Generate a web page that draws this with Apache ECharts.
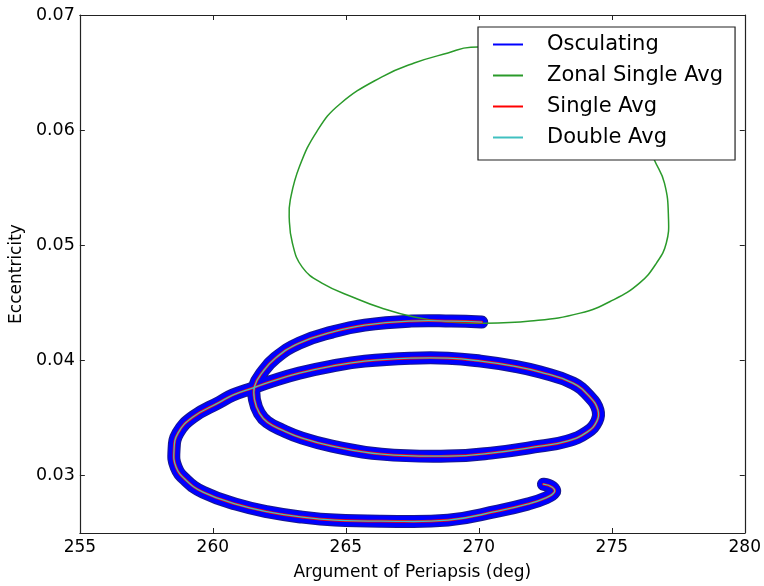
<!DOCTYPE html>
<html>
<head>
<meta charset="utf-8">
<script src="https://cdn.jsdelivr.net/npm/echarts@6/dist/echarts.min.js"></script>
<style>
html,body{margin:0;padding:0;background:#fff}
#main{width:764px;height:586px}
</style>
</head>
<body>
<div id="main"></div>
<script>
// averaged trajectory (argument of periapsis in deg, eccentricity)
var pathOmega = [270.11,268.96,267.46,265.71,264.48,263.25,262.35,261.87,261.57,261.57,261.75,262.05,262.61,263.36,264.48,266.34,268.84,270.45,272.31,273.32,274.07,274.44,274.48,274.18,273.54,272.31,271.31,270.07,268.84,267.46,265.71,264.48,263.25,262.24,261.49,260.75,260.26,259.25,258.69,258.54,258.62,258.99,259.63,260.86,262.13,263.36,264.59,266.34,268.84,270.71,271.83,272.50,272.84,272.76,272.43]
var pathEcc = [0.04332,0.04341,0.04341,0.04306,0.04245,0.0415,0.04019,0.03898,0.03776,0.03654,0.03541,0.03463,0.03394,0.03324,0.03255,0.03185,0.03168,0.03194,0.03255,0.03298,0.03376,0.03472,0.03567,0.0368,0.03802,0.03898,0.0395,0.03993,0.04019,0.04019,0.03993,0.0395,0.03889,0.0382,0.03759,0.03698,0.03637,0.03507,0.03368,0.0322,0.03072,0.02959,0.02855,0.02751,0.02681,0.02638,0.02612,0.02603,0.02612,0.0269,0.02751,0.02803,0.02855,0.02898,0.02924]
// zonal single averaged loop
var zonalOmega = [270.19,271.94,273.81,275.04,276.04,276.68,277.05,277.13,276.98,276.60,276.16,275.41,273.66,272.43,271.16,269.70,268.84,267.57,266.34,264.78,263.92,263.25,262.91,262.87,262.99,263.36,264.10,265.34,266.34,267.57,268.84,270.19]
var zonalEcc = [0.04323,0.04341,0.0441,0.04523,0.04671,0.04845,0.05019,0.05245,0.0554,0.0574,0.05975,0.062,0.06479,0.066,0.06687,0.0672,0.0667,0.06583,0.06461,0.06227,0.05992,0.05679,0.05392,0.05245,0.05019,0.0481,0.04671,0.04541,0.04454,0.04376,0.04332,0.04323]
var xTicks = [255,260,265,270,275,280]
var yTicks = [0.03,0.04,0.05,0.06,0.07]

function pairs(xs, ys){
  var out = []
  for (var i = 0; i < xs.length; i++) out.push([xs[i], ys[i]])
  return out
}

var font = 'DejaVu Sans'
var myChart = echarts.init(document.getElementById('main'))

// one smooth polyline per series, points placed by the axes
// edge: optional darker outline drawn under the main stroke
function curveSeries(name, xs, ys, color, width, z, edge){
  var data = pairs(xs, ys)
  return {
    name: name,
    type: 'custom',
    coordinateSystem: 'cartesian2d',
    data: data,
    z: z,
    silent: true,
    itemStyle: {color: color},
    renderItem: function (params, api) {
      if (params.dataIndex !== 0) return
      var pts = []
      for (var i = 0; i < data.length; i++) pts.push(api.coord(data[i]))
      var kids = []
      if (edge) {
        kids.push({
          type: 'polyline',
          shape: {points: pts, smooth: 0.45},
          style: {stroke: edge, lineWidth: width + 2, fill: 'none', lineCap: 'round', lineJoin: 'round'}
        })
      }
      kids.push({
        type: 'polyline',
        shape: {points: pts, smooth: 0.45},
        style: {stroke: color, lineWidth: width, fill: 'none', lineCap: 'round', lineJoin: 'round'}
      })
      return {type: 'group', children: kids}
    },
    animation: false
  }
}

var frameAxis = {
  axisLine: {show: true, lineStyle: {color: '#222', width: 1.2}},
  splitLine: {show: false}
}

option = {
  backgroundColor: '#fff',
  animation: false,
  grid: {left: 76, right: 18, top: 15, bottom: 53},
  legend: {
    orient: 'vertical',
    left: 478,
    top: 27,
    padding: [7, 12, 12, 15],
    itemGap: 10,
    itemWidth: 30,
    itemHeight: 2,
    icon: 'rect',
    selectedMode: false,
    backgroundColor: '#fff',
    borderColor: '#222',
    borderWidth: 1.2,
    borderRadius: 0,
    textStyle: {fontFamily: font, fontSize: 21, color: '#000', padding: [0, 0, 0, 19]},
    data: ['Osculating', 'Zonal Single Avg', 'Single Avg', 'Double Avg']
  },
  xAxis: [
    Object.assign({
      type: 'value', min: 255, max: 280, interval: 5,
      name: 'Argument of Periapsis (deg)',
      nameLocation: 'middle', nameGap: 31,
      nameTextStyle: {fontFamily: font, fontSize: 17, color: '#000'},
      axisTick: {show: true, inside: true, length: 5, lineStyle: {color: '#222'}},
      axisLabel: {fontFamily: font, fontSize: 17, color: '#000', margin: 6}
    }, frameAxis),
    Object.assign({
      type: 'value', min: 255, max: 280, interval: 5, position: 'top',
      axisTick: {show: true, inside: true, length: 5, lineStyle: {color: '#222'}},
      axisLabel: {show: false}
    }, frameAxis)
  ],
  yAxis: [
    Object.assign({
      type: 'value', min: 0.025, max: 0.07,
      name: 'Eccentricity',
      nameLocation: 'middle', nameGap: 52,
      nameTextStyle: {fontFamily: font, fontSize: 17, color: '#000'},
      axisTick: {show: true, inside: true, length: 5, customValues: yTicks, lineStyle: {color: '#222'}},
      axisLabel: {fontFamily: font, fontSize: 17.5, color: '#000', margin: 5, customValues: yTicks,
        formatter: function (v) { return v.toFixed(2) }}
    }, frameAxis),
    Object.assign({
      type: 'value', min: 0.025, max: 0.07, position: 'right',
      axisTick: {show: true, inside: true, length: 5, customValues: yTicks, lineStyle: {color: '#222'}},
      axisLabel: {show: false}
    }, frameAxis)
  ],
  series: [
    curveSeries('Osculating', pathOmega, pathEcc, '#0000ff', 11, 2, '#1a1a8c'),
    curveSeries('Zonal Single Avg', zonalOmega, zonalEcc, '#2a9a2a', 1.5, 3),
    curveSeries('Single Avg', pathOmega, pathEcc, '#ff0000', 2.6, 4),
    curveSeries('Double Avg', pathOmega, pathEcc, '#40c0c0', 1.3, 5)
  ]
}
myChart.setOption(option)
</script>
</body>
</html>
